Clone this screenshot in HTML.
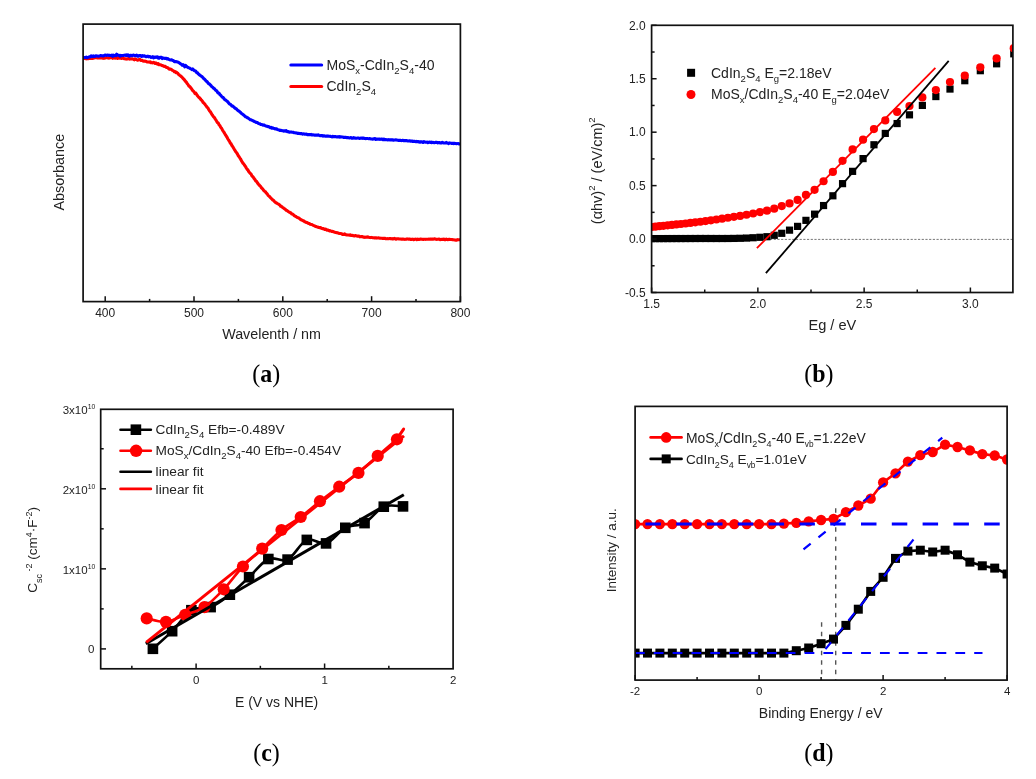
<!DOCTYPE html>
<html><head><meta charset="utf-8"><title>Figure</title>
<style>html,body{margin:0;padding:0;background:#fff;width:1036px;height:779px;overflow:hidden}svg{display:block;will-change:transform}</style>
</head><body>
<svg width="1036" height="779" viewBox="0 0 1036 779">
<rect width="1036" height="779" fill="#fff"/>
<defs><clipPath id="ca"><rect x="83.10" y="24.10" width="377.30" height="277.50"/></clipPath></defs>
<g clip-path="url(#ca)">
<polyline points="81.50,58.60 82.30,58.82 83.10,58.58 83.90,58.54 84.70,58.33 85.50,58.51 86.30,58.87 87.10,58.63 87.90,58.77 88.70,58.49 89.50,58.49 90.30,58.38 91.10,57.78 91.90,58.49 92.70,58.34 93.50,58.29 94.30,57.59 95.10,57.53 95.90,57.74 96.70,57.83 97.50,58.03 98.30,57.90 99.10,58.04 99.90,57.68 100.70,57.95 101.50,57.97 102.30,57.65 103.10,58.36 103.90,58.02 104.70,58.22 105.50,57.68 106.30,57.65 107.10,57.78 107.90,57.86 108.70,58.09 109.50,57.98 110.30,57.78 111.10,57.64 111.90,57.78 112.70,58.31 113.50,57.71 114.30,58.04 115.10,58.11 115.90,57.55 116.70,58.03 117.50,58.44 118.30,57.47 119.10,58.02 119.90,58.13 120.70,57.97 121.50,58.43 122.30,58.32 123.10,57.96 123.90,58.72 124.70,58.74 125.50,58.89 126.30,59.11 127.10,58.86 127.90,58.85 128.70,58.50 129.50,59.14 130.30,58.85 131.10,58.97 131.90,58.79 132.70,58.96 133.50,59.16 134.30,59.79 135.10,58.88 135.90,59.14 136.70,59.74 137.50,60.21 138.30,60.07 139.10,59.45 139.90,59.40 140.70,60.41 141.50,60.23 142.30,60.26 143.10,61.05 143.90,61.25 144.70,61.12 145.50,61.31 146.30,61.53 147.10,62.04 147.90,61.91 148.70,62.04 149.50,62.21 150.30,61.74 151.10,62.76 151.90,62.82 152.70,62.86 153.50,62.28 154.30,62.86 155.10,63.49 155.90,62.89 156.70,63.59 157.50,64.17 158.30,63.70 159.10,64.82 159.90,64.76 160.70,64.82 161.50,65.24 162.30,65.62 163.10,65.77 163.90,66.39 164.70,66.18 165.50,66.62 166.30,67.43 167.10,67.53 167.90,67.67 168.70,68.64 169.50,69.23 170.30,69.08 171.10,69.22 171.90,70.01 172.70,70.42 173.50,70.79 174.30,71.73 175.10,71.45 175.90,72.61 176.70,72.36 177.50,73.05 178.30,74.06 179.10,74.84 179.90,75.44 180.70,76.01 181.50,76.72 182.30,77.54 183.10,78.53 183.90,79.20 184.70,80.27 185.50,81.33 186.30,82.16 187.10,83.41 187.90,84.38 188.70,85.85 189.50,86.38 190.30,87.18 191.10,88.21 191.90,89.32 192.70,90.57 193.50,91.15 194.30,92.30 195.10,93.65 195.90,93.22 196.70,94.54 197.50,95.82 198.30,96.73 199.10,97.55 199.90,98.23 200.70,99.37 201.50,100.21 202.30,101.00 203.10,102.49 203.90,103.10 204.70,103.95 205.50,105.08 206.30,106.13 207.10,107.25 207.90,107.89 208.70,109.43 209.50,110.85 210.30,111.62 211.10,112.99 211.90,114.34 212.70,115.50 213.50,116.79 214.30,117.38 215.10,118.80 215.90,119.97 216.70,121.31 217.50,122.57 218.30,123.07 219.10,124.93 219.90,125.66 220.70,127.26 221.50,128.09 222.30,129.64 223.10,131.09 223.90,132.13 224.70,133.49 225.50,134.91 226.30,136.11 227.10,137.40 227.90,139.01 228.70,140.25 229.50,141.33 230.30,143.19 231.10,143.80 231.90,145.48 232.70,146.57 233.50,147.94 234.30,149.34 235.10,150.55 235.90,151.92 236.70,152.82 237.50,154.12 238.30,155.78 239.10,156.78 239.90,158.04 240.70,159.23 241.50,160.97 242.30,162.11 243.10,163.45 243.90,164.21 244.70,165.56 245.50,166.51 246.30,168.00 247.10,169.28 247.90,169.95 248.70,171.50 249.50,172.49 250.30,173.37 251.10,174.13 251.90,175.81 252.70,176.60 253.50,177.56 254.30,178.79 255.10,179.82 255.90,181.05 256.70,181.61 257.50,183.00 258.30,184.05 259.10,185.02 259.90,185.70 260.70,186.55 261.50,187.82 262.30,188.60 263.10,189.53 263.90,190.70 264.70,191.31 265.50,191.85 266.30,193.10 267.10,193.72 267.90,195.08 268.70,195.84 269.50,196.51 270.30,197.43 271.10,198.37 271.90,198.99 272.70,199.95 273.50,200.40 274.30,201.28 275.10,202.02 275.90,202.69 276.70,202.91 277.50,203.81 278.30,203.92 279.10,204.66 279.90,205.10 280.70,206.23 281.50,206.40 282.30,207.20 283.10,207.74 283.90,208.34 284.70,208.80 285.50,209.51 286.30,210.35 287.10,210.60 287.90,211.24 288.70,211.88 289.50,212.21 290.30,212.56 291.10,213.23 291.90,214.06 292.70,214.10 293.50,214.81 294.30,215.62 295.10,216.10 295.90,216.47 296.70,217.12 297.50,217.51 298.30,217.77 299.10,218.20 299.90,218.87 300.70,219.64 301.50,219.85 302.30,220.26 303.10,220.74 303.90,221.03 304.70,221.71 305.50,221.91 306.30,222.57 307.10,222.44 307.90,223.28 308.70,223.44 309.50,223.54 310.30,224.34 311.10,224.48 311.90,224.45 312.70,225.01 313.50,225.53 314.30,225.70 315.10,226.22 315.90,226.50 316.70,226.77 317.50,226.98 318.30,227.42 319.10,227.56 319.90,227.77 320.70,227.56 321.50,228.34 322.30,228.66 323.10,228.61 323.90,228.82 324.70,229.49 325.50,229.06 326.30,229.70 327.10,230.29 327.90,229.92 328.70,230.45 329.50,230.91 330.30,230.78 331.10,231.14 331.90,231.44 332.70,231.36 333.50,231.74 334.30,232.05 335.10,232.38 335.90,232.45 336.70,232.65 337.50,232.73 338.30,233.06 339.10,233.49 339.90,233.54 340.70,233.55 341.50,233.72 342.30,234.50 343.10,234.37 343.90,234.40 344.70,233.94 345.50,234.64 346.30,234.72 347.10,235.05 347.90,234.93 348.70,234.95 349.50,235.16 350.30,234.82 351.10,235.47 351.90,235.45 352.70,235.37 353.50,235.84 354.30,236.03 355.10,235.56 355.90,235.80 356.70,236.08 357.50,236.16 358.30,236.16 359.10,236.17 359.90,236.83 360.70,236.74 361.50,236.43 362.30,236.51 363.10,237.15 363.90,237.11 364.70,237.34 365.50,237.24 366.30,237.01 367.10,237.29 367.90,236.92 368.70,237.23 369.50,237.42 370.30,237.58 371.10,237.41 371.90,237.58 372.70,237.74 373.50,237.78 374.30,237.88 375.10,237.86 375.90,237.82 376.70,238.08 377.50,238.00 378.30,237.90 379.10,238.00 379.90,238.17 380.70,238.20 381.50,238.31 382.30,238.33 383.10,238.42 383.90,238.42 384.70,238.27 385.50,238.63 386.30,238.79 387.10,238.72 387.90,238.65 388.70,238.81 389.50,238.59 390.30,238.45 391.10,238.83 391.90,238.67 392.70,238.99 393.50,238.68 394.30,238.41 395.10,238.71 395.90,239.20 396.70,238.86 397.50,238.70 398.30,238.82 399.10,239.06 399.90,239.07 400.70,239.03 401.50,239.28 402.30,239.15 403.10,239.03 403.90,239.16 404.70,239.36 405.50,239.25 406.30,239.27 407.10,238.91 407.90,239.09 408.70,239.26 409.50,239.09 410.30,239.34 411.10,239.27 411.90,239.33 412.70,239.14 413.50,239.64 414.30,239.41 415.10,239.15 415.90,239.21 416.70,239.66 417.50,239.14 418.30,239.36 419.10,239.38 419.90,239.20 420.70,238.99 421.50,239.23 422.30,239.26 423.10,239.40 423.90,239.34 424.70,239.20 425.50,239.35 426.30,239.30 427.10,239.24 427.90,239.21 428.70,239.16 429.50,239.32 430.30,239.01 431.10,239.09 431.90,239.20 432.70,238.94 433.50,239.13 434.30,238.85 435.10,239.09 435.90,239.32 436.70,239.34 437.50,239.24 438.30,239.22 439.10,239.03 439.90,239.63 440.70,239.42 441.50,239.55 442.30,239.22 443.10,239.37 443.90,239.10 444.70,239.60 445.50,239.65 446.30,239.17 447.10,239.53 447.90,239.68 448.70,239.28 449.50,239.30 450.30,239.46 451.10,239.57 451.90,239.45 452.70,239.74 453.50,239.81 454.30,239.90 455.10,239.94 455.90,240.11 456.70,240.08 457.50,239.65 458.30,239.82 459.10,239.74 459.90,239.76 460.70,239.95 461.50,239.98 462.30,240.07" fill="none" stroke="#ff0000" stroke-width="3.1" stroke-linejoin="round"/>
<polyline points="81.50,57.12 82.30,57.23 83.10,57.68 83.90,57.57 84.70,57.46 85.50,57.50 86.30,57.14 87.10,57.64 87.90,57.41 88.70,57.13 89.50,56.80 90.30,56.90 91.10,55.78 91.90,56.37 92.70,56.67 93.50,55.95 94.30,56.53 95.10,56.41 95.90,55.71 96.70,56.07 97.50,55.96 98.30,56.18 99.10,56.17 99.90,55.85 100.70,55.47 101.50,55.70 102.30,55.69 103.10,55.97 103.90,55.76 104.70,55.32 105.50,55.04 106.30,55.40 107.10,55.22 107.90,55.04 108.70,55.41 109.50,55.23 110.30,55.44 111.10,55.58 111.90,55.18 112.70,56.25 113.50,55.16 114.30,55.70 115.10,55.28 115.90,55.66 116.70,54.24 117.50,54.88 118.30,55.26 119.10,55.40 119.90,56.09 120.70,55.28 121.50,55.67 122.30,55.47 123.10,55.55 123.90,55.39 124.70,55.13 125.50,55.41 126.30,54.79 127.10,55.70 127.90,54.84 128.70,55.36 129.50,56.12 130.30,55.19 131.10,55.30 131.90,55.77 132.70,55.33 133.50,55.02 134.30,55.46 135.10,55.61 135.90,55.69 136.70,55.13 137.50,56.18 138.30,56.20 139.10,55.59 139.90,55.75 140.70,55.54 141.50,56.35 142.30,55.58 143.10,56.21 143.90,55.83 144.70,55.83 145.50,56.48 146.30,56.80 147.10,56.35 147.90,56.17 148.70,56.84 149.50,56.58 150.30,56.81 151.10,57.38 151.90,57.30 152.70,56.73 153.50,57.93 154.30,57.11 155.10,57.51 155.90,57.03 156.70,57.36 157.50,56.77 158.30,58.28 159.10,58.22 159.90,57.29 160.70,57.28 161.50,57.34 162.30,58.57 163.10,58.03 163.90,58.31 164.70,58.34 165.50,58.56 166.30,58.33 167.10,58.95 167.90,58.54 168.70,59.29 169.50,59.65 170.30,59.94 171.10,59.89 171.90,59.87 172.70,60.55 173.50,60.55 174.30,61.64 175.10,61.60 175.90,61.54 176.70,61.70 177.50,61.93 178.30,62.17 179.10,62.76 179.90,63.39 180.70,63.86 181.50,64.28 182.30,65.31 183.10,64.60 183.90,65.31 184.70,66.83 185.50,65.37 186.30,66.30 187.10,66.96 187.90,67.34 188.70,67.82 189.50,67.95 190.30,68.59 191.10,68.88 191.90,69.60 192.70,68.99 193.50,69.87 194.30,70.73 195.10,70.84 195.90,71.39 196.70,72.64 197.50,72.74 198.30,73.88 199.10,74.58 199.90,75.09 200.70,75.78 201.50,76.38 202.30,76.87 203.10,77.91 203.90,78.78 204.70,79.37 205.50,80.25 206.30,81.21 207.10,81.67 207.90,82.76 208.70,83.78 209.50,84.07 210.30,84.98 211.10,85.69 211.90,86.79 212.70,87.30 213.50,88.18 214.30,88.63 215.10,89.55 215.90,90.34 216.70,90.80 217.50,92.26 218.30,92.98 219.10,93.29 219.90,94.63 220.70,95.29 221.50,96.24 222.30,97.04 223.10,97.47 223.90,98.51 224.70,99.62 225.50,99.96 226.30,100.60 227.10,101.24 227.90,101.97 228.70,102.96 229.50,103.91 230.30,104.31 231.10,104.93 231.90,105.98 232.70,106.08 233.50,106.69 234.30,107.58 235.10,108.22 235.90,108.56 236.70,109.18 237.50,110.13 238.30,110.78 239.10,111.13 239.90,112.02 240.70,112.61 241.50,113.47 242.30,114.01 243.10,114.64 243.90,115.20 244.70,116.07 245.50,116.71 246.30,116.90 247.10,117.67 247.90,117.86 248.70,118.51 249.50,119.13 250.30,119.74 251.10,119.81 251.90,120.30 252.70,120.78 253.50,120.85 254.30,121.55 255.10,121.79 255.90,122.37 256.70,122.42 257.50,122.59 258.30,123.32 259.10,123.68 259.90,123.81 260.70,124.39 261.50,124.44 262.30,124.64 263.10,125.13 263.90,124.98 264.70,125.41 265.50,125.80 266.30,126.22 267.10,126.27 267.90,126.61 268.70,126.66 269.50,127.09 270.30,127.61 271.10,127.38 271.90,128.24 272.70,127.88 273.50,128.25 274.30,128.52 275.10,128.93 275.90,128.71 276.70,128.77 277.50,129.53 278.30,129.78 279.10,129.94 279.90,130.54 280.70,130.23 281.50,130.42 282.30,130.72 283.10,130.77 283.90,131.19 284.70,130.76 285.50,131.08 286.30,130.61 287.10,131.61 287.90,131.51 288.70,131.90 289.50,132.28 290.30,131.99 291.10,132.07 291.90,132.15 292.70,132.21 293.50,132.38 294.30,132.77 295.10,132.78 295.90,132.91 296.70,132.99 297.50,133.33 298.30,133.36 299.10,133.36 299.90,133.63 300.70,133.58 301.50,133.48 302.30,134.10 303.10,134.00 303.90,133.81 304.70,134.30 305.50,134.24 306.30,133.94 307.10,134.65 307.90,134.47 308.70,134.66 309.50,134.60 310.30,134.61 311.10,134.40 311.90,134.98 312.70,134.87 313.50,134.88 314.30,135.08 315.10,135.10 315.90,135.29 316.70,135.15 317.50,135.28 318.30,134.93 319.10,135.34 319.90,135.63 320.70,135.82 321.50,135.55 322.30,135.66 323.10,136.07 323.90,135.75 324.70,136.03 325.50,136.28 326.30,136.02 327.10,136.32 327.90,135.99 328.70,136.24 329.50,136.24 330.30,136.34 331.10,136.60 331.90,136.91 332.70,136.35 333.50,136.43 334.30,136.70 335.10,136.45 335.90,136.81 336.70,136.89 337.50,136.77 338.30,136.99 339.10,136.63 339.90,137.15 340.70,136.74 341.50,136.97 342.30,137.06 343.10,137.14 343.90,137.45 344.70,137.35 345.50,137.31 346.30,137.56 347.10,137.82 347.90,137.56 348.70,137.69 349.50,137.92 350.30,137.78 351.10,137.52 351.90,138.32 352.70,138.32 353.50,137.53 354.30,137.96 355.10,138.10 355.90,138.25 356.70,138.23 357.50,138.08 358.30,137.97 359.10,138.24 359.90,138.46 360.70,138.08 361.50,138.13 362.30,138.37 363.10,138.03 363.90,138.40 364.70,138.41 365.50,138.62 366.30,138.43 367.10,138.44 367.90,138.57 368.70,138.68 369.50,138.60 370.30,138.78 371.10,138.96 371.90,139.09 372.70,139.23 373.50,138.77 374.30,138.89 375.10,138.51 375.90,139.43 376.70,138.95 377.50,139.12 378.30,139.27 379.10,138.94 379.90,139.34 380.70,139.28 381.50,138.96 382.30,139.43 383.10,139.65 383.90,139.07 384.70,139.65 385.50,139.57 386.30,139.66 387.10,139.70 387.90,139.91 388.70,139.64 389.50,139.90 390.30,139.69 391.10,139.95 391.90,139.68 392.70,139.87 393.50,140.27 394.30,140.06 395.10,139.98 395.90,139.82 396.70,139.93 397.50,140.17 398.30,140.36 399.10,140.30 399.90,140.37 400.70,140.31 401.50,140.64 402.30,140.34 403.10,140.37 403.90,140.71 404.70,140.61 405.50,140.60 406.30,140.60 407.10,140.73 407.90,140.97 408.70,140.98 409.50,140.73 410.30,141.12 411.10,141.13 411.90,140.96 412.70,141.38 413.50,141.23 414.30,141.28 415.10,141.57 415.90,141.74 416.70,141.40 417.50,141.69 418.30,141.49 419.10,142.19 419.90,141.69 420.70,142.09 421.50,141.78 422.30,142.13 423.10,142.47 423.90,141.57 424.70,142.04 425.50,142.27 426.30,142.19 427.10,142.11 427.90,142.71 428.70,142.33 429.50,142.01 430.30,142.54 431.10,142.05 431.90,142.66 432.70,142.34 433.50,142.51 434.30,142.76 435.10,142.56 435.90,142.28 436.70,142.25 437.50,142.85 438.30,142.79 439.10,142.50 439.90,142.86 440.70,142.82 441.50,142.87 442.30,142.32 443.10,142.74 443.90,143.01 444.70,143.00 445.50,143.06 446.30,142.43 447.10,142.99 447.90,143.09 448.70,143.55 449.50,142.90 450.30,143.07 451.10,143.20 451.90,143.44 452.70,143.23 453.50,143.62 454.30,143.30 455.10,143.58 455.90,143.49 456.70,143.69 457.50,143.58 458.30,143.45 459.10,144.04 459.90,143.93 460.70,143.79 461.50,143.98 462.30,144.16" fill="none" stroke="#0000ff" stroke-width="3.1" stroke-linejoin="round"/>
</g>
<rect x="83.10" y="24.10" width="377.30" height="277.50" fill="none" stroke="#111" stroke-width="1.7"/>
<line x1="105.20" y1="301.60" x2="105.20" y2="296.20" stroke="#111" stroke-width="1.5"/>
<line x1="149.60" y1="301.60" x2="149.60" y2="298.90" stroke="#111" stroke-width="1.5"/>
<line x1="194.00" y1="301.60" x2="194.00" y2="296.20" stroke="#111" stroke-width="1.5"/>
<line x1="238.40" y1="301.60" x2="238.40" y2="298.90" stroke="#111" stroke-width="1.5"/>
<line x1="282.80" y1="301.60" x2="282.80" y2="296.20" stroke="#111" stroke-width="1.5"/>
<line x1="327.20" y1="301.60" x2="327.20" y2="298.90" stroke="#111" stroke-width="1.5"/>
<line x1="371.60" y1="301.60" x2="371.60" y2="296.20" stroke="#111" stroke-width="1.5"/>
<line x1="416.00" y1="301.60" x2="416.00" y2="298.90" stroke="#111" stroke-width="1.5"/>
<line x1="460.40" y1="301.60" x2="460.40" y2="296.20" stroke="#111" stroke-width="1.5"/>
<text x="105.20" y="316.60" font-family="Liberation Sans" font-size="12" fill="#222" text-anchor="middle" >400</text>
<text x="194.00" y="316.60" font-family="Liberation Sans" font-size="12" fill="#222" text-anchor="middle" >500</text>
<text x="282.80" y="316.60" font-family="Liberation Sans" font-size="12" fill="#222" text-anchor="middle" >600</text>
<text x="371.60" y="316.60" font-family="Liberation Sans" font-size="12" fill="#222" text-anchor="middle" >700</text>
<text x="460.40" y="316.60" font-family="Liberation Sans" font-size="12" fill="#222" text-anchor="middle" >800</text>
<text x="271.60" y="339.30" font-family="Liberation Sans" font-size="14.3" fill="#222" text-anchor="middle" >Wavelenth / nm</text>
<text transform="translate(63.5,172.2) rotate(-90)" x="0" y="0" font-family="Liberation Sans" font-size="14.4" fill="#222" text-anchor="middle">Absorbance</text>
<line x1="290.8" y1="65" x2="321.7" y2="65" stroke="#0000ff" stroke-width="3" stroke-linecap="round"/>
<line x1="290.8" y1="86.6" x2="321.7" y2="86.6" stroke="#ff0000" stroke-width="3" stroke-linecap="round"/>
<text x="326.50" y="69.80" font-family="Liberation Sans" font-size="14" fill="#222" text-anchor="start" >MoS<tspan font-size="9.5" dy="4">x</tspan><tspan dy="-4">-CdIn</tspan><tspan font-size="9.5" dy="4">2</tspan><tspan dy="-4">S</tspan><tspan font-size="9.5" dy="4">4</tspan><tspan dy="-4">-40</tspan></text>
<text x="326.50" y="90.90" font-family="Liberation Sans" font-size="14" fill="#222" text-anchor="start" >CdIn<tspan font-size="9.5" dy="4">2</tspan><tspan dy="-4">S</tspan><tspan font-size="9.5" dy="4">4</tspan></text>
<text transform="translate(266.20,381.80) scale(0.92,1)" x="0" y="0" font-family="Liberation Serif" font-size="26" fill="#000" text-anchor="middle">(<tspan font-weight="bold">a</tspan>)</text>
<defs><clipPath id="cb"><rect x="651.60" y="25.30" width="361.30" height="267.20"/></clipPath></defs>
<g clip-path="url(#cb)">
<line x1="651.60" y1="239.4" x2="1012.90" y2="239.4" stroke="#777" stroke-width="1" stroke-dasharray="2.2 1.5"/>
<rect x="1010.18" y="50.21" width="7.2" height="7.2" fill="#000"/>
<rect x="993.03" y="60.19" width="7.2" height="7.2" fill="#000"/>
<rect x="976.72" y="67.09" width="7.2" height="7.2" fill="#000"/>
<rect x="961.19" y="77.11" width="7.2" height="7.2" fill="#000"/>
<rect x="946.39" y="85.45" width="7.2" height="7.2" fill="#000"/>
<rect x="932.26" y="92.96" width="7.2" height="7.2" fill="#000"/>
<rect x="918.77" y="101.81" width="7.2" height="7.2" fill="#000"/>
<rect x="905.87" y="111.23" width="7.2" height="7.2" fill="#000"/>
<rect x="893.52" y="119.96" width="7.2" height="7.2" fill="#000"/>
<rect x="881.69" y="129.81" width="7.2" height="7.2" fill="#000"/>
<rect x="870.35" y="141.16" width="7.2" height="7.2" fill="#000"/>
<rect x="859.46" y="155.00" width="7.2" height="7.2" fill="#000"/>
<rect x="849.00" y="167.75" width="7.2" height="7.2" fill="#000"/>
<rect x="838.95" y="180.04" width="7.2" height="7.2" fill="#000"/>
<rect x="829.28" y="192.20" width="7.2" height="7.2" fill="#000"/>
<rect x="819.96" y="201.94" width="7.2" height="7.2" fill="#000"/>
<rect x="810.99" y="210.56" width="7.2" height="7.2" fill="#000"/>
<rect x="802.34" y="216.76" width="7.2" height="7.2" fill="#000"/>
<rect x="794.00" y="222.78" width="7.2" height="7.2" fill="#000"/>
<rect x="785.94" y="226.55" width="7.2" height="7.2" fill="#000"/>
<rect x="778.16" y="229.71" width="7.2" height="7.2" fill="#000"/>
<rect x="770.64" y="231.70" width="7.2" height="7.2" fill="#000"/>
<rect x="763.37" y="233.11" width="7.2" height="7.2" fill="#000"/>
<rect x="756.33" y="233.69" width="7.2" height="7.2" fill="#000"/>
<rect x="749.52" y="234.14" width="7.2" height="7.2" fill="#000"/>
<rect x="742.92" y="234.48" width="7.2" height="7.2" fill="#000"/>
<rect x="736.53" y="234.70" width="7.2" height="7.2" fill="#000"/>
<rect x="730.33" y="234.82" width="7.2" height="7.2" fill="#000"/>
<rect x="724.31" y="234.89" width="7.2" height="7.2" fill="#000"/>
<rect x="718.48" y="234.91" width="7.2" height="7.2" fill="#000"/>
<rect x="712.81" y="234.91" width="7.2" height="7.2" fill="#000"/>
<rect x="707.31" y="234.90" width="7.2" height="7.2" fill="#000"/>
<rect x="701.96" y="234.89" width="7.2" height="7.2" fill="#000"/>
<rect x="696.76" y="234.89" width="7.2" height="7.2" fill="#000"/>
<rect x="691.70" y="234.91" width="7.2" height="7.2" fill="#000"/>
<rect x="686.79" y="234.92" width="7.2" height="7.2" fill="#000"/>
<rect x="682.00" y="234.94" width="7.2" height="7.2" fill="#000"/>
<rect x="677.34" y="234.95" width="7.2" height="7.2" fill="#000"/>
<rect x="672.80" y="234.95" width="7.2" height="7.2" fill="#000"/>
<rect x="668.38" y="234.96" width="7.2" height="7.2" fill="#000"/>
<rect x="664.07" y="234.97" width="7.2" height="7.2" fill="#000"/>
<rect x="659.87" y="234.98" width="7.2" height="7.2" fill="#000"/>
<rect x="655.77" y="234.99" width="7.2" height="7.2" fill="#000"/>
<rect x="651.77" y="234.99" width="7.2" height="7.2" fill="#000"/>
<rect x="647.87" y="235.00" width="7.2" height="7.2" fill="#000"/>
<rect x="644.06" y="235.01" width="7.2" height="7.2" fill="#000"/>
<circle cx="1013.78" cy="48.18" r="4.1" fill="#ff0000"/>
<circle cx="996.63" cy="58.39" r="4.1" fill="#ff0000"/>
<circle cx="980.32" cy="67.28" r="4.1" fill="#ff0000"/>
<circle cx="964.79" cy="75.71" r="4.1" fill="#ff0000"/>
<circle cx="949.99" cy="82.06" r="4.1" fill="#ff0000"/>
<circle cx="935.86" cy="90.06" r="4.1" fill="#ff0000"/>
<circle cx="922.37" cy="97.44" r="4.1" fill="#ff0000"/>
<circle cx="909.47" cy="105.98" r="4.1" fill="#ff0000"/>
<circle cx="897.12" cy="111.95" r="4.1" fill="#ff0000"/>
<circle cx="885.29" cy="120.43" r="4.1" fill="#ff0000"/>
<circle cx="873.95" cy="129.04" r="4.1" fill="#ff0000"/>
<circle cx="863.06" cy="139.65" r="4.1" fill="#ff0000"/>
<circle cx="852.60" cy="149.39" r="4.1" fill="#ff0000"/>
<circle cx="842.55" cy="160.85" r="4.1" fill="#ff0000"/>
<circle cx="832.88" cy="171.91" r="4.1" fill="#ff0000"/>
<circle cx="823.56" cy="181.25" r="4.1" fill="#ff0000"/>
<circle cx="814.59" cy="189.81" r="4.1" fill="#ff0000"/>
<circle cx="805.94" cy="194.90" r="4.1" fill="#ff0000"/>
<circle cx="797.60" cy="199.95" r="4.1" fill="#ff0000"/>
<circle cx="789.54" cy="203.44" r="4.1" fill="#ff0000"/>
<circle cx="781.76" cy="206.11" r="4.1" fill="#ff0000"/>
<circle cx="774.24" cy="208.66" r="4.1" fill="#ff0000"/>
<circle cx="766.97" cy="210.69" r="4.1" fill="#ff0000"/>
<circle cx="759.93" cy="212.08" r="4.1" fill="#ff0000"/>
<circle cx="753.12" cy="213.48" r="4.1" fill="#ff0000"/>
<circle cx="746.52" cy="214.77" r="4.1" fill="#ff0000"/>
<circle cx="740.13" cy="215.88" r="4.1" fill="#ff0000"/>
<circle cx="733.93" cy="216.82" r="4.1" fill="#ff0000"/>
<circle cx="727.91" cy="217.74" r="4.1" fill="#ff0000"/>
<circle cx="722.08" cy="218.63" r="4.1" fill="#ff0000"/>
<circle cx="716.41" cy="219.48" r="4.1" fill="#ff0000"/>
<circle cx="710.91" cy="220.29" r="4.1" fill="#ff0000"/>
<circle cx="705.56" cy="221.04" r="4.1" fill="#ff0000"/>
<circle cx="700.36" cy="221.74" r="4.1" fill="#ff0000"/>
<circle cx="695.30" cy="222.37" r="4.1" fill="#ff0000"/>
<circle cx="690.39" cy="222.95" r="4.1" fill="#ff0000"/>
<circle cx="685.60" cy="223.49" r="4.1" fill="#ff0000"/>
<circle cx="680.94" cy="223.99" r="4.1" fill="#ff0000"/>
<circle cx="676.40" cy="224.47" r="4.1" fill="#ff0000"/>
<circle cx="671.98" cy="224.93" r="4.1" fill="#ff0000"/>
<circle cx="667.67" cy="225.37" r="4.1" fill="#ff0000"/>
<circle cx="663.47" cy="225.79" r="4.1" fill="#ff0000"/>
<circle cx="659.37" cy="226.21" r="4.1" fill="#ff0000"/>
<circle cx="655.37" cy="226.63" r="4.1" fill="#ff0000"/>
<circle cx="651.47" cy="227.05" r="4.1" fill="#ff0000"/>
<circle cx="647.66" cy="227.46" r="4.1" fill="#ff0000"/>
</g>
<line x1="756.9" y1="248.2" x2="935.4" y2="67.8" stroke="#ff0000" stroke-width="1.8"/>
<line x1="765.9" y1="273.2" x2="948.7" y2="60.8" stroke="#000" stroke-width="1.8"/>
<rect x="651.60" y="25.30" width="361.30" height="267.20" fill="none" stroke="#111" stroke-width="1.7"/>
<line x1="651.60" y1="292.50" x2="656.60" y2="292.50" stroke="#111" stroke-width="1.5"/>
<text x="645.60" y="296.80" font-family="Liberation Sans" font-size="12" fill="#222" text-anchor="end" >-0.5</text>
<line x1="651.60" y1="265.78" x2="654.60" y2="265.78" stroke="#111" stroke-width="1.5"/>
<line x1="651.60" y1="239.06" x2="656.60" y2="239.06" stroke="#111" stroke-width="1.5"/>
<text x="645.60" y="243.36" font-family="Liberation Sans" font-size="12" fill="#222" text-anchor="end" >0.0</text>
<line x1="651.60" y1="212.34" x2="654.60" y2="212.34" stroke="#111" stroke-width="1.5"/>
<line x1="651.60" y1="185.62" x2="656.60" y2="185.62" stroke="#111" stroke-width="1.5"/>
<text x="645.60" y="189.92" font-family="Liberation Sans" font-size="12" fill="#222" text-anchor="end" >0.5</text>
<line x1="651.60" y1="158.90" x2="654.60" y2="158.90" stroke="#111" stroke-width="1.5"/>
<line x1="651.60" y1="132.18" x2="656.60" y2="132.18" stroke="#111" stroke-width="1.5"/>
<text x="645.60" y="136.48" font-family="Liberation Sans" font-size="12" fill="#222" text-anchor="end" >1.0</text>
<line x1="651.60" y1="105.46" x2="654.60" y2="105.46" stroke="#111" stroke-width="1.5"/>
<line x1="651.60" y1="78.74" x2="656.60" y2="78.74" stroke="#111" stroke-width="1.5"/>
<text x="645.60" y="83.04" font-family="Liberation Sans" font-size="12" fill="#222" text-anchor="end" >1.5</text>
<line x1="651.60" y1="52.02" x2="654.60" y2="52.02" stroke="#111" stroke-width="1.5"/>
<line x1="651.60" y1="25.30" x2="656.60" y2="25.30" stroke="#111" stroke-width="1.5"/>
<text x="645.60" y="29.60" font-family="Liberation Sans" font-size="12" fill="#222" text-anchor="end" >2.0</text>
<line x1="651.60" y1="292.50" x2="651.60" y2="287.50" stroke="#111" stroke-width="1.5"/>
<text x="651.60" y="308.10" font-family="Liberation Sans" font-size="12" fill="#222" text-anchor="middle" >1.5</text>
<line x1="704.73" y1="292.50" x2="704.73" y2="289.50" stroke="#111" stroke-width="1.5"/>
<line x1="757.86" y1="292.50" x2="757.86" y2="287.50" stroke="#111" stroke-width="1.5"/>
<text x="757.86" y="308.10" font-family="Liberation Sans" font-size="12" fill="#222" text-anchor="middle" >2.0</text>
<line x1="811.00" y1="292.50" x2="811.00" y2="289.50" stroke="#111" stroke-width="1.5"/>
<line x1="864.13" y1="292.50" x2="864.13" y2="287.50" stroke="#111" stroke-width="1.5"/>
<text x="864.13" y="308.10" font-family="Liberation Sans" font-size="12" fill="#222" text-anchor="middle" >2.5</text>
<line x1="917.26" y1="292.50" x2="917.26" y2="289.50" stroke="#111" stroke-width="1.5"/>
<line x1="970.39" y1="292.50" x2="970.39" y2="287.50" stroke="#111" stroke-width="1.5"/>
<text x="970.39" y="308.10" font-family="Liberation Sans" font-size="12" fill="#222" text-anchor="middle" >3.0</text>
<text x="832.40" y="330.10" font-family="Liberation Sans" font-size="14.6" fill="#222" text-anchor="middle" >Eg / eV</text>
<text transform="translate(602,170.8) rotate(-90)" x="0" y="0" font-family="Liberation Sans" font-size="14.5" fill="#222" text-anchor="middle">(&#945;hv)<tspan font-size="9.5" dy="-7">2</tspan><tspan dy="7"> / (eV/cm)</tspan><tspan font-size="9.5" dy="-7">2</tspan></text>
<rect x="687.1" y="68.8" width="8" height="8" fill="#000"/>
<circle cx="691" cy="94.5" r="4.5" fill="#ff0000"/>
<text x="711.00" y="77.90" font-family="Liberation Sans" font-size="14" fill="#222" text-anchor="start" >CdIn<tspan font-size="9.5" dy="4">2</tspan><tspan dy="-4">S</tspan><tspan font-size="9.5" dy="4">4</tspan><tspan dy="-4"> E</tspan><tspan font-size="9.5" dy="4">g</tspan><tspan dy="-4">=2.18eV</tspan></text>
<text x="711.00" y="99.40" font-family="Liberation Sans" font-size="14" fill="#222" text-anchor="start" >MoS<tspan font-size="9.5" dy="4">x</tspan><tspan dy="-4">/CdIn</tspan><tspan font-size="9.5" dy="4">2</tspan><tspan dy="-4">S</tspan><tspan font-size="9.5" dy="4">4</tspan><tspan dy="-4">-40 E</tspan><tspan font-size="9.5" dy="4">g</tspan><tspan dy="-4">=2.04eV</tspan></text>
<text transform="translate(818.80,381.70) scale(0.92,1)" x="0" y="0" font-family="Liberation Serif" font-size="26" fill="#000" text-anchor="middle">(<tspan font-weight="bold">b</tspan>)</text>
<path d="M152.90,648.80 C156.11,645.87 165.73,637.63 172.14,631.20 C178.55,624.77 184.97,614.22 191.38,610.20 C197.79,606.18 204.21,609.68 210.62,607.10 C217.03,604.52 223.45,599.68 229.86,594.70 C236.27,589.72 242.69,583.15 249.10,577.20 C255.51,571.25 261.93,561.93 268.34,559.00 C274.75,556.07 281.17,562.78 287.58,559.60 C293.99,556.42 300.41,542.60 306.82,539.90 C313.23,537.20 319.65,545.42 326.06,543.40 C332.47,541.38 338.89,531.18 345.30,527.80 C351.71,524.42 358.13,526.62 364.54,523.10 C370.95,519.58 377.37,509.48 383.78,506.70 C390.19,503.92 399.81,506.45 403.02,506.40" fill="none" stroke="#000" stroke-width="2.6"/>
<rect x="147.60" y="643.50" width="10.6" height="10.6" fill="#000"/>
<rect x="166.84" y="625.90" width="10.6" height="10.6" fill="#000"/>
<rect x="186.08" y="604.90" width="10.6" height="10.6" fill="#000"/>
<rect x="205.32" y="601.80" width="10.6" height="10.6" fill="#000"/>
<rect x="224.56" y="589.40" width="10.6" height="10.6" fill="#000"/>
<rect x="243.80" y="571.90" width="10.6" height="10.6" fill="#000"/>
<rect x="263.04" y="553.70" width="10.6" height="10.6" fill="#000"/>
<rect x="282.28" y="554.30" width="10.6" height="10.6" fill="#000"/>
<rect x="301.52" y="534.60" width="10.6" height="10.6" fill="#000"/>
<rect x="320.76" y="538.10" width="10.6" height="10.6" fill="#000"/>
<rect x="340.00" y="522.50" width="10.6" height="10.6" fill="#000"/>
<rect x="359.24" y="517.80" width="10.6" height="10.6" fill="#000"/>
<rect x="378.48" y="501.40" width="10.6" height="10.6" fill="#000"/>
<rect x="397.72" y="501.10" width="10.6" height="10.6" fill="#000"/>
<path d="M146.70,618.40 C149.91,618.98 159.53,622.50 165.95,621.90 C172.37,621.30 178.78,617.27 185.20,614.80 C191.62,612.33 198.03,611.35 204.45,607.10 C210.87,602.85 217.28,596.07 223.70,589.30 C230.12,582.53 236.53,573.28 242.95,566.50 C249.37,559.72 255.78,554.68 262.20,548.60 C268.62,542.52 275.03,535.27 281.45,530.00 C287.87,524.73 294.28,521.80 300.70,517.00 C307.12,512.20 313.53,506.25 319.95,501.20 C326.37,496.15 332.78,491.42 339.20,486.70 C345.62,481.98 352.03,478.03 358.45,472.90 C364.87,467.77 371.28,461.50 377.70,455.90 C384.12,450.30 393.74,442.07 396.95,439.30" fill="none" stroke="#ff0000" stroke-width="2.6"/>
<circle cx="146.70" cy="618.40" r="6.1" fill="#ff0000"/>
<circle cx="165.95" cy="621.90" r="6.1" fill="#ff0000"/>
<circle cx="185.20" cy="614.80" r="6.1" fill="#ff0000"/>
<circle cx="204.45" cy="607.10" r="6.1" fill="#ff0000"/>
<circle cx="223.70" cy="589.30" r="6.1" fill="#ff0000"/>
<circle cx="242.95" cy="566.50" r="6.1" fill="#ff0000"/>
<circle cx="262.20" cy="548.60" r="6.1" fill="#ff0000"/>
<circle cx="281.45" cy="530.00" r="6.1" fill="#ff0000"/>
<circle cx="300.70" cy="517.00" r="6.1" fill="#ff0000"/>
<circle cx="319.95" cy="501.20" r="6.1" fill="#ff0000"/>
<circle cx="339.20" cy="486.70" r="6.1" fill="#ff0000"/>
<circle cx="358.45" cy="472.90" r="6.1" fill="#ff0000"/>
<circle cx="377.70" cy="455.90" r="6.1" fill="#ff0000"/>
<circle cx="396.95" cy="439.30" r="6.1" fill="#ff0000"/>
<line x1="145.8" y1="643.8" x2="403.8" y2="494.7" stroke="#000" stroke-width="3"/>
<line x1="146.2" y1="642.4" x2="404" y2="435.8" stroke="#ff0000" stroke-width="3"/>
<line x1="396.6" y1="439.3" x2="403.6" y2="429.1" stroke="#ff0000" stroke-width="3" stroke-linecap="round"/>
<rect x="100.70" y="409.30" width="352.40" height="259.50" fill="none" stroke="#111" stroke-width="1.7"/>
<line x1="100.70" y1="648.90" x2="106.00" y2="648.90" stroke="#111" stroke-width="1.5"/>
<line x1="100.70" y1="608.88" x2="103.70" y2="608.88" stroke="#111" stroke-width="1.5"/>
<line x1="100.70" y1="568.85" x2="106.00" y2="568.85" stroke="#111" stroke-width="1.5"/>
<line x1="100.70" y1="528.83" x2="103.70" y2="528.83" stroke="#111" stroke-width="1.5"/>
<line x1="100.70" y1="488.80" x2="106.00" y2="488.80" stroke="#111" stroke-width="1.5"/>
<line x1="100.70" y1="448.77" x2="103.70" y2="448.77" stroke="#111" stroke-width="1.5"/>
<line x1="131.85" y1="668.80" x2="131.85" y2="665.80" stroke="#111" stroke-width="1.5"/>
<line x1="196.10" y1="668.80" x2="196.10" y2="663.50" stroke="#111" stroke-width="1.5"/>
<line x1="260.35" y1="668.80" x2="260.35" y2="665.80" stroke="#111" stroke-width="1.5"/>
<line x1="324.60" y1="668.80" x2="324.60" y2="663.50" stroke="#111" stroke-width="1.5"/>
<line x1="388.85" y1="668.80" x2="388.85" y2="665.80" stroke="#111" stroke-width="1.5"/>
<text x="196.10" y="684.00" font-family="Liberation Sans" font-size="11.5" fill="#222" text-anchor="middle" >0</text>
<text x="324.60" y="684.00" font-family="Liberation Sans" font-size="11.5" fill="#222" text-anchor="middle" >1</text>
<text x="453.10" y="684.00" font-family="Liberation Sans" font-size="11.5" fill="#222" text-anchor="middle" >2</text>
<text x="94.50" y="653.00" font-family="Liberation Sans" font-size="11.5" fill="#222" text-anchor="end" >0</text>
<text x="95.20" y="574.05" font-family="Liberation Sans" font-size="11.5" fill="#222" text-anchor="end" >1x10<tspan font-size="6.8" dy="-5">10</tspan></text>
<text x="95.20" y="494.00" font-family="Liberation Sans" font-size="11.5" fill="#222" text-anchor="end" >2x10<tspan font-size="6.8" dy="-5">10</tspan></text>
<text x="95.20" y="413.95" font-family="Liberation Sans" font-size="11.5" fill="#222" text-anchor="end" >3x10<tspan font-size="6.8" dy="-5">10</tspan></text>
<text x="276.60" y="706.70" font-family="Liberation Sans" font-size="14" fill="#222" text-anchor="middle" >E (V vs NHE)</text>
<text transform="translate(37.4,549.8) rotate(-90)" x="0" y="0" font-family="Liberation Sans" font-size="13.5" fill="#222" text-anchor="middle">C<tspan font-size="9" dy="5">sc</tspan><tspan font-size="9" dy="-10"> -2</tspan><tspan dy="5"> (cm</tspan><tspan font-size="9" dy="-5">4</tspan><tspan dy="5">&#183;F</tspan><tspan font-size="9" dy="-5">-2</tspan><tspan dy="5">)</tspan></text>
<line x1="120.5" y1="429.7" x2="150.9" y2="429.7" stroke="#000" stroke-width="2.6" stroke-linecap="round"/>
<rect x="130.6" y="424.4" width="10.6" height="10.6" fill="#000"/>
<line x1="120.5" y1="450.8" x2="150.9" y2="450.8" stroke="#ff0000" stroke-width="2.6" stroke-linecap="round"/>
<circle cx="136.1" cy="450.8" r="6.2" fill="#ff0000"/>
<line x1="120.5" y1="471.8" x2="150.9" y2="471.8" stroke="#000" stroke-width="2.6" stroke-linecap="round"/>
<line x1="120.5" y1="488.9" x2="150.9" y2="488.9" stroke="#ff0000" stroke-width="2.6" stroke-linecap="round"/>
<text x="155.60" y="434.10" font-family="Liberation Sans" font-size="13.7" fill="#222" text-anchor="start" >CdIn<tspan font-size="9.5" dy="4">2</tspan><tspan dy="-4">S</tspan><tspan font-size="9.5" dy="4">4</tspan><tspan dy="-4"> Efb=-0.489V</tspan></text>
<text x="155.60" y="455.40" font-family="Liberation Sans" font-size="13.7" fill="#222" text-anchor="start" >MoS<tspan font-size="9.5" dy="4">x</tspan><tspan dy="-4">/CdIn</tspan><tspan font-size="9.5" dy="4">2</tspan><tspan dy="-4">S</tspan><tspan font-size="9.5" dy="4">4</tspan><tspan dy="-4">-40 Efb=-0.454V</tspan></text>
<text x="155.60" y="476.20" font-family="Liberation Sans" font-size="13.7" fill="#222" text-anchor="start" >linear fit</text>
<text x="155.60" y="493.60" font-family="Liberation Sans" font-size="13.7" fill="#222" text-anchor="start" >linear fit</text>
<text transform="translate(266.50,761.10) scale(0.92,1)" x="0" y="0" font-family="Liberation Serif" font-size="26" fill="#000" text-anchor="middle">(<tspan font-weight="bold">c</tspan>)</text>
<defs><clipPath id="cd"><rect x="635.10" y="406.40" width="372.00" height="273.70"/></clipPath></defs>
<g clip-path="url(#cd)">
<line x1="835.7" y1="508.2" x2="835.7" y2="680" stroke="#555" stroke-width="1.4" stroke-dasharray="4.5 5"/>
<line x1="821.6" y1="622.2" x2="821.6" y2="680" stroke="#555" stroke-width="1.4" stroke-dasharray="4.5 5"/>
<polyline points="635.10,653.10 647.50,653.10 659.90,653.10 672.30,653.10 684.70,653.10 697.10,653.10 709.50,653.10 721.90,653.10 734.30,653.10 746.70,653.10 759.10,653.10 771.50,653.10 783.90,653.10 796.30,650.70 808.70,648.00 821.10,643.70 833.50,639.10 845.90,625.40 858.30,609.20 870.70,591.40 883.10,577.30 895.50,558.40 907.90,551.10 920.30,550.20 932.70,552.00 945.10,550.20 957.50,554.80 969.90,562.10 982.30,565.80 994.70,568.10 1007.10,574.00" fill="none" stroke="#000" stroke-width="2.6"/>
<rect x="630.60" y="648.60" width="9" height="9" fill="#000"/>
<rect x="643.00" y="648.60" width="9" height="9" fill="#000"/>
<rect x="655.40" y="648.60" width="9" height="9" fill="#000"/>
<rect x="667.80" y="648.60" width="9" height="9" fill="#000"/>
<rect x="680.20" y="648.60" width="9" height="9" fill="#000"/>
<rect x="692.60" y="648.60" width="9" height="9" fill="#000"/>
<rect x="705.00" y="648.60" width="9" height="9" fill="#000"/>
<rect x="717.40" y="648.60" width="9" height="9" fill="#000"/>
<rect x="729.80" y="648.60" width="9" height="9" fill="#000"/>
<rect x="742.20" y="648.60" width="9" height="9" fill="#000"/>
<rect x="754.60" y="648.60" width="9" height="9" fill="#000"/>
<rect x="767.00" y="648.60" width="9" height="9" fill="#000"/>
<rect x="779.40" y="648.60" width="9" height="9" fill="#000"/>
<rect x="791.80" y="646.20" width="9" height="9" fill="#000"/>
<rect x="804.20" y="643.50" width="9" height="9" fill="#000"/>
<rect x="816.60" y="639.20" width="9" height="9" fill="#000"/>
<rect x="829.00" y="634.60" width="9" height="9" fill="#000"/>
<rect x="841.40" y="620.90" width="9" height="9" fill="#000"/>
<rect x="853.80" y="604.70" width="9" height="9" fill="#000"/>
<rect x="866.20" y="586.90" width="9" height="9" fill="#000"/>
<rect x="878.60" y="572.80" width="9" height="9" fill="#000"/>
<rect x="891.00" y="553.90" width="9" height="9" fill="#000"/>
<rect x="903.40" y="546.60" width="9" height="9" fill="#000"/>
<rect x="915.80" y="545.70" width="9" height="9" fill="#000"/>
<rect x="928.20" y="547.50" width="9" height="9" fill="#000"/>
<rect x="940.60" y="545.70" width="9" height="9" fill="#000"/>
<rect x="953.00" y="550.30" width="9" height="9" fill="#000"/>
<rect x="965.40" y="557.60" width="9" height="9" fill="#000"/>
<rect x="977.80" y="561.30" width="9" height="9" fill="#000"/>
<rect x="990.20" y="563.60" width="9" height="9" fill="#000"/>
<rect x="1002.60" y="569.50" width="9" height="9" fill="#000"/>
<polyline points="635.10,524.10 647.50,524.10 659.90,524.10 672.30,524.10 684.70,524.10 697.10,524.10 709.50,524.10 721.90,524.10 734.30,524.10 746.70,524.10 759.10,524.10 771.50,524.10 783.90,523.60 796.30,522.80 808.70,521.40 821.10,520.00 833.50,518.90 845.90,512.20 858.30,505.50 870.70,498.70 883.10,482.40 895.50,473.30 907.90,461.60 920.30,455.10 932.70,452.00 945.10,444.70 957.50,447.00 969.90,450.40 982.30,454.10 994.70,455.50 1007.10,459.50" fill="none" stroke="#ff0000" stroke-width="2.6"/>
<circle cx="635.10" cy="524.10" r="5.15" fill="#ff0000"/>
<circle cx="647.50" cy="524.10" r="5.15" fill="#ff0000"/>
<circle cx="659.90" cy="524.10" r="5.15" fill="#ff0000"/>
<circle cx="672.30" cy="524.10" r="5.15" fill="#ff0000"/>
<circle cx="684.70" cy="524.10" r="5.15" fill="#ff0000"/>
<circle cx="697.10" cy="524.10" r="5.15" fill="#ff0000"/>
<circle cx="709.50" cy="524.10" r="5.15" fill="#ff0000"/>
<circle cx="721.90" cy="524.10" r="5.15" fill="#ff0000"/>
<circle cx="734.30" cy="524.10" r="5.15" fill="#ff0000"/>
<circle cx="746.70" cy="524.10" r="5.15" fill="#ff0000"/>
<circle cx="759.10" cy="524.10" r="5.15" fill="#ff0000"/>
<circle cx="771.50" cy="524.10" r="5.15" fill="#ff0000"/>
<circle cx="783.90" cy="523.60" r="5.15" fill="#ff0000"/>
<circle cx="796.30" cy="522.80" r="5.15" fill="#ff0000"/>
<circle cx="808.70" cy="521.40" r="5.15" fill="#ff0000"/>
<circle cx="821.10" cy="520.00" r="5.15" fill="#ff0000"/>
<circle cx="833.50" cy="518.90" r="5.15" fill="#ff0000"/>
<circle cx="845.90" cy="512.20" r="5.15" fill="#ff0000"/>
<circle cx="858.30" cy="505.50" r="5.15" fill="#ff0000"/>
<circle cx="870.70" cy="498.70" r="5.15" fill="#ff0000"/>
<circle cx="883.10" cy="482.40" r="5.15" fill="#ff0000"/>
<circle cx="895.50" cy="473.30" r="5.15" fill="#ff0000"/>
<circle cx="907.90" cy="461.60" r="5.15" fill="#ff0000"/>
<circle cx="920.30" cy="455.10" r="5.15" fill="#ff0000"/>
<circle cx="932.70" cy="452.00" r="5.15" fill="#ff0000"/>
<circle cx="945.10" cy="444.70" r="5.15" fill="#ff0000"/>
<circle cx="957.50" cy="447.00" r="5.15" fill="#ff0000"/>
<circle cx="969.90" cy="450.40" r="5.15" fill="#ff0000"/>
<circle cx="982.30" cy="454.10" r="5.15" fill="#ff0000"/>
<circle cx="994.70" cy="455.50" r="5.15" fill="#ff0000"/>
<circle cx="1007.10" cy="459.50" r="5.15" fill="#ff0000"/>
<line x1="645.4" y1="523.9" x2="1000" y2="523.9" stroke="#0000ff" stroke-width="3" stroke-dasharray="15.5 15.3"/>
<line x1="803.5" y1="549.4" x2="942.3" y2="437.7" stroke="#0000ff" stroke-width="2.2" stroke-dasharray="9.2 10"/>
<line x1="636" y1="653.1" x2="982.5" y2="653.1" stroke="#0000ff" stroke-width="2" stroke-dasharray="9.8 9.05" stroke-dashoffset="1.1"/>
<line x1="825.5" y1="649.2" x2="913.5" y2="539.5" stroke="#0000ff" stroke-width="2.1" stroke-dasharray="9.8 9.05" stroke-dashoffset="0.9"/>
</g>
<rect x="635.10" y="406.40" width="372.00" height="273.70" fill="none" stroke="#111" stroke-width="1.7"/>
<line x1="635.10" y1="680.10" x2="635.10" y2="675.10" stroke="#111" stroke-width="1.5"/>
<text x="635.10" y="695.30" font-family="Liberation Sans" font-size="11.5" fill="#222" text-anchor="middle" >-2</text>
<line x1="697.10" y1="680.10" x2="697.10" y2="677.10" stroke="#111" stroke-width="1.5"/>
<line x1="759.10" y1="680.10" x2="759.10" y2="675.10" stroke="#111" stroke-width="1.5"/>
<text x="759.10" y="695.30" font-family="Liberation Sans" font-size="11.5" fill="#222" text-anchor="middle" >0</text>
<line x1="821.10" y1="680.10" x2="821.10" y2="677.10" stroke="#111" stroke-width="1.5"/>
<line x1="883.10" y1="680.10" x2="883.10" y2="675.10" stroke="#111" stroke-width="1.5"/>
<text x="883.10" y="695.30" font-family="Liberation Sans" font-size="11.5" fill="#222" text-anchor="middle" >2</text>
<line x1="945.10" y1="680.10" x2="945.10" y2="677.10" stroke="#111" stroke-width="1.5"/>
<line x1="1007.10" y1="680.10" x2="1007.10" y2="675.10" stroke="#111" stroke-width="1.5"/>
<text x="1007.10" y="695.30" font-family="Liberation Sans" font-size="11.5" fill="#222" text-anchor="middle" >4</text>
<text x="820.70" y="717.80" font-family="Liberation Sans" font-size="14" fill="#222" text-anchor="middle" >Binding Energy / eV</text>
<text transform="translate(615.6,550.2) rotate(-90)" x="0" y="0" font-family="Liberation Sans" font-size="13.5" fill="#222" text-anchor="middle">Intensity / a.u.</text>
<line x1="650.7" y1="437.4" x2="681.5" y2="437.4" stroke="#ff0000" stroke-width="2.8" stroke-linecap="round"/>
<circle cx="666.2" cy="437.4" r="5.3" fill="#ff0000"/>
<line x1="650.7" y1="458.9" x2="681.5" y2="458.9" stroke="#000" stroke-width="2.8" stroke-linecap="round"/>
<rect x="661.7" y="454.4" width="9" height="9" fill="#000"/>
<text x="686.00" y="442.50" font-family="Liberation Sans" font-size="13.9" fill="#222" text-anchor="start" >MoS<tspan font-size="9" dy="4">x</tspan><tspan dy="-4">/CdIn</tspan><tspan font-size="9" dy="4">2</tspan><tspan dy="-4">S</tspan><tspan font-size="9" dy="4">4</tspan><tspan dy="-4">-40 E</tspan><tspan font-size="8.3" dy="4">vb</tspan><tspan dy="-4">=1.22eV</tspan></text>
<text x="686.00" y="464.00" font-family="Liberation Sans" font-size="13.6" fill="#222" text-anchor="start" >CdIn<tspan font-size="9" dy="4">2</tspan><tspan dy="-4">S</tspan><tspan font-size="9" dy="4">4</tspan><tspan dy="-4"> E</tspan><tspan font-size="8.3" dy="4">vb</tspan><tspan dy="-4">=1.01eV</tspan></text>
<text transform="translate(818.90,760.80) scale(0.92,1)" x="0" y="0" font-family="Liberation Serif" font-size="26" fill="#000" text-anchor="middle">(<tspan font-weight="bold">d</tspan>)</text>
</svg>
</body></html>
